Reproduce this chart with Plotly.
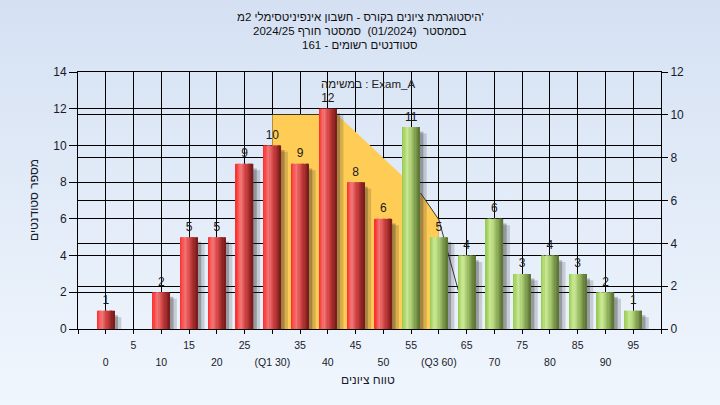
import base64
import plotly.graph_objects as go

# ---------------- data ----------------
grades = [0, 5, 10, 15, 20, 25, 30, 35, 40, 45, 50, 55, 60, 65, 70, 75, 80, 85, 90, 95]
counts = [1, 0, 2, 5, 5, 9, 10, 9, 12, 8, 6, 11, 5, 4, 6, 3, 4, 3, 2, 1]
pass_grade = 55
tick_labels = ['0', '5', '10', '15', '20', '25', '(Q1 30)', '35', '40', '45', '50',
               '55', '(Q3 60)', '65', '70', '75', '80', '85', '90', '95']
q1, q3 = 30, 60
# distribution curve (right axis)
curve_x = [30, 41.7, 50, 56.7, 60, 63.6, 65.4]
curve_y = [10, 10, 8.0, 6.35, 5.1, 1.7, 0]

title_lines = [
    "\u200f'היסטוגרמת ציונים בקורס - חשבון אינפיניטסימלי 2מ",
    "\u200fבסמסטר  (01/2024)  סמסטר חורף 2024/25",
    "\u200fסטודנטים רשומים - 161",
]
task_label = "במשימה : Exam_A"
x_title = "טווח ציונים"
y_title = "מספר סטודנטים"

# ---------------- style ----------------
FONT = "Liberation Sans, Arial, DejaVu Sans, sans-serif"
TXT = "#1a1a2a"
W, H = 720, 405
L, R, T, B = 78, 59, 72, 76
PW, PH = W - L - R, H - T - B


def px(x):
    return (x - L) / PW


def py(y):
    return (H - B - y) / PH


red_stops = [(0.0, (255, 40, 40)), (0.3, (242, 120, 120)), (0.55, (214, 70, 70)), (1.0, (118, 24, 24))]
green_stops = [(0.0, (150, 200, 80)), (0.3, (204, 234, 150)), (0.55, (166, 200, 110)), (1.0, (88, 112, 48))]


def interp(stops, t):
    for (t0, c0), (t1, c1) in zip(stops[:-1], stops[1:]):
        if t0 <= t <= t1:
            f = (t - t0) / (t1 - t0) if t1 > t0 else 0
            c = [round(a + (b - a) * f) for a, b in zip(c0, c1)]
            return "rgb(%d,%d,%d)" % tuple(c)
    return "rgb(%d,%d,%d)" % stops[-1][1]


fig = go.Figure()

# yellow inter-quartile area (main subplot, right axis)
band_x = [q1] + [x for x in curve_x if q1 <= x <= q3] + [q3]
band_y = [0] + [y for x, y in zip(curve_x, curve_y) if q1 <= x <= q3] + [0]
fig.add_trace(go.Scatter(x=band_x, y=band_y, fill="toself", fillcolor="#ffcc55",
                         mode="lines", line=dict(width=0, color="#ffcc55"),
                         hoverinfo="skip", showlegend=False, xaxis="x", yaxis="y"))
line_x = [x for x in curve_x if x >= 56.7]
line_y = [y for x, y in zip(curve_x, curve_y) if x >= 56.7]
fig.add_trace(go.Scatter(x=line_x, y=line_y, mode="lines",
                         line=dict(width=1, color="#3a3a3a"),
                         hoverinfo="skip", showlegend=False, xaxis="x", yaxis="y"))
# dummy for second x axis
fig.add_trace(go.Scatter(x=[None], y=[None], xaxis="x2", yaxis="y", showlegend=False))

bw = 3.1
# shadows
for shift, drop, col in [(1.25, 0.35, "rgba(40,40,40,0.18)"), (0.65, 0.25, "rgba(40,40,40,0.30)")]:
    fig.add_trace(go.Bar(x=grades, y=[max(c - drop, 0) if c > 0 else 0 for c in counts],
                         width=bw, offset=-bw / 2 + shift, marker=dict(color=col, line=dict(width=0)),
                         hoverinfo="skip", showlegend=False, xaxis="x", yaxis="y2"))

# gradient bars made of slices
N = 14
for k in range(N):
    t = (k + 0.5) / N
    cols = [interp(green_stops if g >= pass_grade else red_stops, t) for g in grades]
    fig.add_trace(go.Bar(x=grades, y=counts, width=bw / N + 0.03,
                         offset=-bw / 2 + k * bw / N,
                         marker=dict(color=cols, line=dict(width=0)),
                         hoverinfo="skip", showlegend=False, xaxis="x", yaxis="y2"))

# value labels
fig.add_trace(go.Scatter(x=grades, y=counts, mode="markers+text",
                         marker=dict(size=4, opacity=0),
                         text=[str(c) if c > 0 else "" for c in counts],
                         textposition="top center",
                         textfont=dict(family=FONT, size=12, color="#1a1a1a"),
                         hoverinfo="skip", showlegend=False, xaxis="x", yaxis="y2"))

row1_vals = [g for i, g in enumerate(grades) if i % 2 == 1]
row1_text = [tick_labels[i] for i in range(len(grades)) if i % 2 == 1]
row2_vals = [g for i, g in enumerate(grades) if i % 2 == 0]
row2_text = [tick_labels[i] for i in range(len(grades)) if i % 2 == 0]
all_ticks = [-5] + grades + [100]

bg_svg = ("<svg xmlns='http://www.w3.org/2000/svg' width='720' height='405'>"
          "<defs><linearGradient id='g' x1='0' y1='0' x2='0' y2='1'>"
          "<stop offset='0' stop-color='#d5e1f3'/><stop offset='1' stop-color='#f0f6fd'/>"
          "</linearGradient></defs><rect width='720' height='405' fill='url(#g)'/></svg>")
bg_src = "data:image/svg+xml;base64," + base64.b64encode(bg_svg.encode()).decode()

annots = []
for i, line in enumerate(title_lines):
    annots.append(dict(text=line, x=px(360), y=py(17 + 14 * i), xref="paper", yref="paper",
                       xanchor="center", yanchor="middle", showarrow=False,
                       font=dict(family=FONT, size=11.5, color="#111111")))
annots.append(dict(text=task_label, x=px(368), y=py(84), xref="paper", yref="paper",
                   xanchor="center", yanchor="middle", showarrow=False,
                   font=dict(family=FONT, size=11.5, color="#222222")))
annots.append(dict(text=x_title, x=px(368), y=py(380), xref="paper", yref="paper",
                   xanchor="center", yanchor="middle", showarrow=False,
                   font=dict(family=FONT, size=12, color=TXT)))
annots.append(dict(text=y_title, x=px(34), y=py(200), xref="paper", yref="paper",
                   xanchor="center", yanchor="middle", showarrow=False, textangle=-90,
                   font=dict(family=FONT, size=12, color=TXT)))

fig.update_layout(
    width=W, height=H,
    margin=dict(l=L, r=R, t=T, b=B, autoexpand=False),
    paper_bgcolor="#e3ecf8", plot_bgcolor="#b4b4b4",
    barmode="overlay", showlegend=False,
    font=dict(family=FONT, color=TXT),
    images=[dict(source=bg_src, xref="paper", yref="paper", x=-L / PW, y=1 + T / PH,
                 sizex=W / PW, sizey=H / PH, xanchor="left", yanchor="top",
                 sizing="stretch", layer="below")],
    xaxis=dict(range=[-5, 100], tickmode="array", tickvals=all_ticks,
               ticktext=["" if v not in row1_vals else row1_text[row1_vals.index(v)] for v in all_ticks],
               ticks="outside", ticklen=4, tickcolor="black", showgrid=True, gridcolor="black",
               gridwidth=1, showline=True, linecolor="black", mirror=True, zeroline=False,
               tickfont=dict(size=10.5, color=TXT), ticklabelstandoff=2),
    xaxis2=dict(range=[-5, 100], overlaying="x", anchor="y", side="bottom", tickmode="array",
                tickvals=row2_vals, ticktext=row2_text, ticks="", showgrid=False, zeroline=False,
                showline=False, tickfont=dict(size=10.5, color=TXT), ticklabelstandoff=25),
    yaxis=dict(range=[0, 12], side="right", tickmode="linear", tick0=0, dtick=2,
               ticks="outside", ticklen=6, tickcolor="black", showgrid=True, gridcolor="black",
               gridwidth=1, showline=True, linecolor="black", zeroline=False,
               tickfont=dict(size=12, color=TXT)),
    yaxis2=dict(range=[0, 14], overlaying="y", side="left", tickmode="linear", tick0=0, dtick=2,
                ticks="outside", ticklen=8, tickcolor="black", showgrid=True, gridcolor="black",
                gridwidth=1, showline=True, linecolor="black", zeroline=False,
                tickfont=dict(size=12, color=TXT)),
    annotations=annots,
)

fig.write_html("out.html", config={"displayModeBar": False},
               post_script="document.body.style.margin='0px';")
